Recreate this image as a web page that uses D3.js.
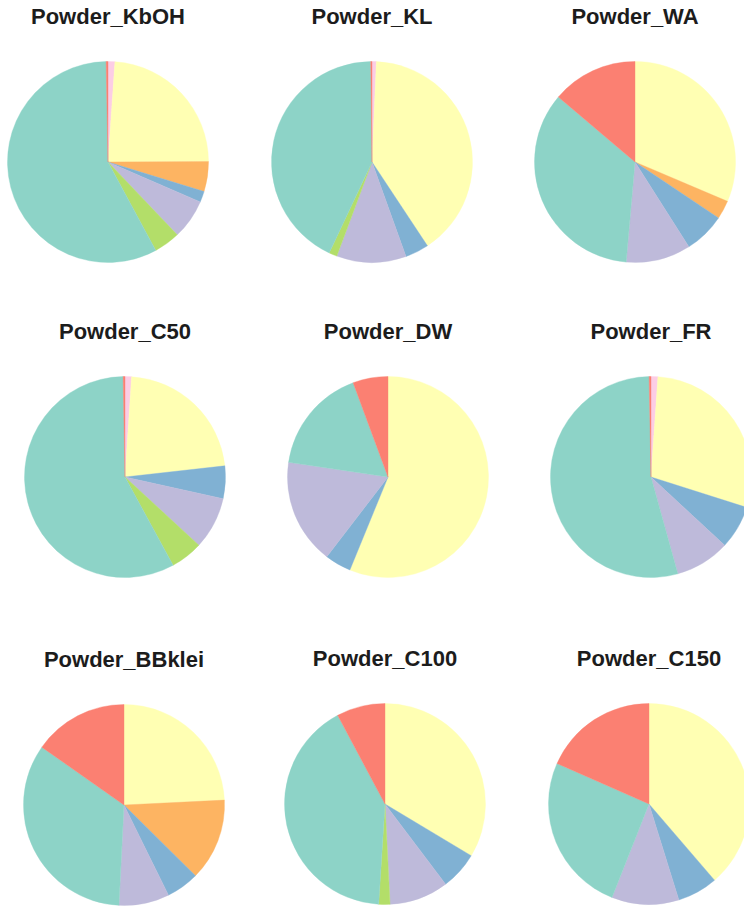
<!DOCTYPE html>
<html>
<head>
<meta charset="utf-8">
<script src="https://cdn.jsdelivr.net/npm/d3@7"></script>
<style>
  html, body { margin: 0; padding: 0; background: #ffffff; }
  svg { display: block; }
</style>
</head>
<body>
<script>
// Composition categories, in drawing order (clockwise from 12 o'clock)
const categories = ["C1", "C2", "C3", "C4", "C5", "C6", "C7", "C8"];
const colors = ["#fccde5", "#ffffb3", "#fdb462", "#80b1d3", "#bebada", "#b3de69", "#8dd3c7", "#fb8072"];

// Sample names (panel titles)
const samples = ["Powder_KbOH", "Powder_KL", "Powder_WA",
                 "Powder_C50", "Powder_DW", "Powder_FR",
                 "Powder_BBklei", "Powder_C100", "Powder_C150"];

// Shares (%) per sample, same order as categories
const powderKbOH   = [1.1, 23.8, 4.8, 1.75, 6.4, 4.2, 57.5, 0.3];
const powderKL     = [0.7, 40.0, 0.0, 3.8, 11.2, 1.3, 42.8, 0.2];
const powderWA     = [0.0, 31.4, 3.0, 6.6, 10.4, 0.0, 34.8, 13.8];
const powderC50    = [1.05, 22.2, 0.0, 5.25, 8.4, 5.2, 57.7, 0.3];
const powderDW     = [0.0, 55.8, 0.0, 4.2, 16.8, 0.0, 16.9, 5.6];
const powderFR     = [1.1, 28.8, 0.0, 7.0, 8.8, 0.0, 54.0, 0.3];
const powderBBklei = [0.0, 24.25, 13.2, 5.3, 8.1, 0.0, 34.0, 15.25];
const powderC100   = [0.0, 33.6, 0.0, 6.1, 9.5, 1.8, 41.2, 7.8];
const powderC150   = [0.0, 38.7, 0.0, 6.5, 10.8, 0.0, 25.6, 18.4];

const seriesBySample = [powderKbOH, powderKL, powderWA,
                        powderC50, powderDW, powderFR,
                        powderBBklei, powderC100, powderC150];

// Panel layout
const W = 744, H = 908;
const radius = 100.5;
const titleOffset = 138;
const centers = [
  [108, 162], [372, 162], [635, 162],
  [125, 477], [388, 477], [651, 477],
  [124, 805], [385, 804], [649, 804]
];

const svg = d3.select("body").append("svg")
  .attr("width", W).attr("height", H)
  .attr("viewBox", `0 0 ${W} ${H}`);

const color = d3.scaleOrdinal().domain(categories).range(colors);

const pie = d3.pie()
  .sort(null)
  .value(d => d.value)
  .startAngle(0)
  .endAngle(2 * Math.PI);

const arc = d3.arc().innerRadius(0).outerRadius(radius);

samples.forEach((name, i) => {
  const [cx, cy] = centers[i];
  const rows = categories.map((c, k) => ({ category: c, value: seriesBySample[i][k] }));
  const g = svg.append("g").attr("transform", `translate(${cx},${cy})`);

  g.selectAll("path")
    .data(pie(rows).filter(d => d.data.value > 0))
    .join("path")
    .attr("d", arc)
    .attr("fill", d => color(d.data.category))
    .attr("stroke", d => color(d.data.category))
    .attr("stroke-width", 0.4);

  svg.append("text")
    .attr("x", cx)
    .attr("y", cy - titleOffset)
    .attr("text-anchor", "middle")
    .attr("font-family", "'Liberation Sans', Arial, Helvetica, sans-serif")
    .attr("font-weight", "bold")
    .attr("font-size", 22)
    .attr("fill", "#1c1c1c")
    .text(name);
});
</script>
</body>
</html>
